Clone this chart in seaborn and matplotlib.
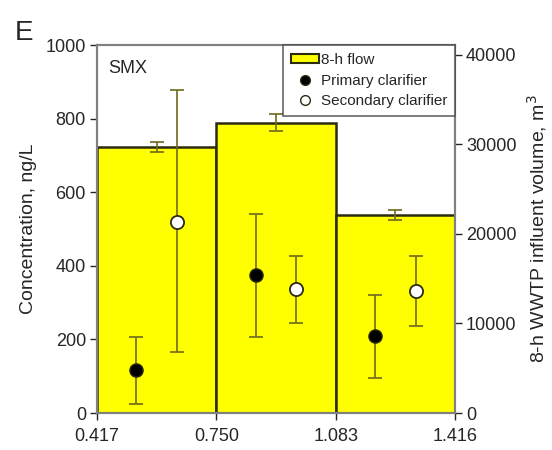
import matplotlib
matplotlib.use("Agg")
import matplotlib.pyplot as plt
from matplotlib.patches import Patch
from matplotlib.lines import Line2D
import numpy as np
import seaborn as sns

# bin edges (flow fraction of day) and tick labels
EDGES = [0.417, 0.750, 1.083, 1.416]
TICK_LABELS = ["0.417", "0.750", "1.083", "1.416"]

# 8-h influent volume, m3
FLOW = [29700, 32400, 22100]
FLOW_ERR = [560, 950, 560]

# SMX concentrations, ng/L
PRIMARY = [117, 375, 209]
PRIMARY_LO = [24, 206, 95]
PRIMARY_HI = [206, 541, 321]
SECONDARY = [519, 337, 332]
SECONDARY_LO = [166, 245, 236]
SECONDARY_HI = [878, 427, 427]

sns.set_theme(style="ticks")
plt.rcParams["font.family"] = ["Liberation Sans", "DejaVu Sans"]

YELLOW = "#ffff00"
EDGE = "#2b2b10"
ERR = "#6e6a1e"
SPINE = "#808080"
TXT = "#262626"

fig = plt.figure(figsize=(5.52, 4.5), dpi=100)
ax = fig.add_axes([0.1757, 0.0822, 0.6485, 0.8178])
ax2 = ax.twinx()

edges = np.array(EDGES)
centers = (edges[:-1] + edges[1:]) / 2
widths = np.diff(edges)

# bars on right axis
ax2.bar(edges[:-1], FLOW, width=widths, align="edge", color=YELLOW,
        edgecolor=EDGE, linewidth=1.8, zorder=1)
ax2.errorbar(centers, FLOW, yerr=FLOW_ERR, fmt="none", ecolor=ERR,
             elinewidth=1.2, capsize=5, capthick=1.2, zorder=2)
ax2.set_ylim(0, 41100)
ax2.set_yticks([0, 10000, 20000, 30000, 40000])
ax2.set_ylabel("8-h WWTP influent volume, m$^3$", fontsize=14, labelpad=6,
               color=TXT)

# points on left axis (drawn above bars)
ax.set_zorder(ax2.get_zorder() + 1)
ax.patch.set_visible(False)

off = 0.057
xp = centers - off
xs = centers + off
p = np.array(PRIMARY)
s = np.array(SECONDARY)
ax.errorbar(xp, p, yerr=[p - np.array(PRIMARY_LO), np.array(PRIMARY_HI) - p],
            fmt="none", ecolor=ERR, elinewidth=1.2, capsize=5, capthick=1.2)
ax.errorbar(xs, s, yerr=[s - np.array(SECONDARY_LO), np.array(SECONDARY_HI) - s],
            fmt="none", ecolor=ERR, elinewidth=1.2, capsize=5, capthick=1.2)
sns.scatterplot(x=xp, y=p, ax=ax, color="black", edgecolor=EDGE, s=90,
                linewidth=1, zorder=3)
sns.scatterplot(x=xs, y=s, ax=ax, color="white", edgecolor=EDGE, s=90,
                linewidth=1.3, zorder=3)

ax.set_xlim(EDGES[0], EDGES[-1])
ax.set_xticks(EDGES)
ax.set_xticklabels(TICK_LABELS)
ax.set_ylim(0, 1000)
ax.set_yticks([0, 200, 400, 600, 800, 1000])
ax.set_ylabel("Concentration, ng/L", fontsize=14, labelpad=6, color=TXT)

for a in (ax, ax2):
    for sp in a.spines.values():
        sp.set_color(SPINE)
        sp.set_linewidth(1.5)
    a.tick_params(labelsize=13, colors=TXT, length=5, width=1,
                  direction="out", pad=3)
ax.tick_params(axis="x", pad=6)

ax.text(0.03, 0.935, "SMX", transform=ax.transAxes, fontsize=13,
        va="center", ha="left", color=TXT)
fig.text(0.027, 0.927, "E", fontsize=20, va="center", ha="left", color=TXT)

handles = [
    Patch(facecolor=YELLOW, edgecolor=EDGE, linewidth=1.5, label="8-h flow"),
    Line2D([], [], marker="o", linestyle="none", markerfacecolor="black",
           markeredgecolor=EDGE, markersize=7, label="Primary clarifier"),
    Line2D([], [], marker="o", linestyle="none", markerfacecolor="white",
           markeredgecolor=EDGE, markersize=7, label="Secondary clarifier"),
]
leg = ax.legend(handles=handles, loc="upper right", borderaxespad=0,
                fontsize=11, fancybox=False, frameon=True, handlelength=1.8,
                handleheight=0.55, handletextpad=0.15, labelspacing=0.45,
                borderpad=0.5)
leg.get_frame().set_edgecolor("#404040")
leg.get_frame().set_linewidth(1.2)
for t in leg.get_texts():
    t.set_color(TXT)

fig.savefig("out.png", dpi=100)
